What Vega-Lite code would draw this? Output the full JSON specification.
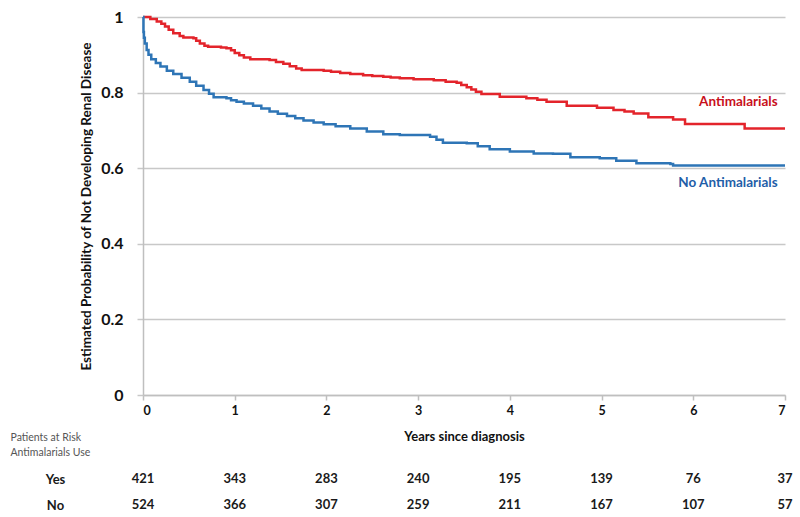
{
  "$schema": "https://vega.github.io/schema/vega-lite/v6.json",
  "background": "white",
  "padding": {"left": 10, "top": 9, "right": 8, "bottom": 0},
  "bounds": "flush",
  "spacing": 71,
  "config": {"font": "Lato", "view": {"stroke": null}},
  "datasets": {
    "km": [
      {"group": "Antimalarials", "t": 0, "s": 1.0},
      {"group": "Antimalarials", "t": 0.08, "s": 0.995},
      {"group": "Antimalarials", "t": 0.15, "s": 0.988},
      {"group": "Antimalarials", "t": 0.2, "s": 0.982},
      {"group": "Antimalarials", "t": 0.24, "s": 0.975},
      {"group": "Antimalarials", "t": 0.28, "s": 0.966},
      {"group": "Antimalarials", "t": 0.33, "s": 0.957},
      {"group": "Antimalarials", "t": 0.4, "s": 0.95},
      {"group": "Antimalarials", "t": 0.44, "s": 0.946},
      {"group": "Antimalarials", "t": 0.55, "s": 0.944},
      {"group": "Antimalarials", "t": 0.58, "s": 0.937},
      {"group": "Antimalarials", "t": 0.62, "s": 0.93},
      {"group": "Antimalarials", "t": 0.67, "s": 0.924},
      {"group": "Antimalarials", "t": 0.71, "s": 0.921},
      {"group": "Antimalarials", "t": 0.85, "s": 0.919},
      {"group": "Antimalarials", "t": 0.91, "s": 0.917},
      {"group": "Antimalarials", "t": 0.96, "s": 0.912},
      {"group": "Antimalarials", "t": 1.0, "s": 0.905},
      {"group": "Antimalarials", "t": 1.05, "s": 0.899},
      {"group": "Antimalarials", "t": 1.1, "s": 0.893},
      {"group": "Antimalarials", "t": 1.17, "s": 0.888},
      {"group": "Antimalarials", "t": 1.38, "s": 0.886},
      {"group": "Antimalarials", "t": 1.45, "s": 0.881},
      {"group": "Antimalarials", "t": 1.53, "s": 0.876},
      {"group": "Antimalarials", "t": 1.6, "s": 0.87},
      {"group": "Antimalarials", "t": 1.67, "s": 0.864},
      {"group": "Antimalarials", "t": 1.73, "s": 0.86},
      {"group": "Antimalarials", "t": 1.97, "s": 0.858},
      {"group": "Antimalarials", "t": 2.05, "s": 0.855},
      {"group": "Antimalarials", "t": 2.15, "s": 0.852},
      {"group": "Antimalarials", "t": 2.26, "s": 0.849},
      {"group": "Antimalarials", "t": 2.4, "s": 0.846},
      {"group": "Antimalarials", "t": 2.5, "s": 0.844},
      {"group": "Antimalarials", "t": 2.62, "s": 0.842},
      {"group": "Antimalarials", "t": 2.7, "s": 0.84},
      {"group": "Antimalarials", "t": 2.8, "s": 0.838},
      {"group": "Antimalarials", "t": 2.95, "s": 0.835},
      {"group": "Antimalarials", "t": 3.17, "s": 0.833},
      {"group": "Antimalarials", "t": 3.3, "s": 0.829},
      {"group": "Antimalarials", "t": 3.42, "s": 0.826},
      {"group": "Antimalarials", "t": 3.47, "s": 0.82},
      {"group": "Antimalarials", "t": 3.53, "s": 0.814},
      {"group": "Antimalarials", "t": 3.58, "s": 0.808},
      {"group": "Antimalarials", "t": 3.63, "s": 0.802},
      {"group": "Antimalarials", "t": 3.69, "s": 0.796},
      {"group": "Antimalarials", "t": 3.89, "s": 0.789},
      {"group": "Antimalarials", "t": 4.18, "s": 0.785},
      {"group": "Antimalarials", "t": 4.3, "s": 0.781},
      {"group": "Antimalarials", "t": 4.4, "s": 0.776},
      {"group": "Antimalarials", "t": 4.62, "s": 0.765},
      {"group": "Antimalarials", "t": 4.95, "s": 0.76},
      {"group": "Antimalarials", "t": 5.13, "s": 0.754},
      {"group": "Antimalarials", "t": 5.25, "s": 0.75},
      {"group": "Antimalarials", "t": 5.35, "s": 0.745},
      {"group": "Antimalarials", "t": 5.51, "s": 0.735},
      {"group": "Antimalarials", "t": 5.78, "s": 0.729},
      {"group": "Antimalarials", "t": 5.91, "s": 0.717},
      {"group": "Antimalarials", "t": 6.56, "s": 0.705},
      {"group": "Antimalarials", "t": 7.0, "s": 0.705},
      {"group": "No Antimalarials", "t": 0, "s": 1.0},
      {"group": "No Antimalarials", "t": 0.005, "s": 0.96},
      {"group": "No Antimalarials", "t": 0.01, "s": 0.945},
      {"group": "No Antimalarials", "t": 0.02, "s": 0.93},
      {"group": "No Antimalarials", "t": 0.04, "s": 0.913},
      {"group": "No Antimalarials", "t": 0.06, "s": 0.9},
      {"group": "No Antimalarials", "t": 0.09, "s": 0.888},
      {"group": "No Antimalarials", "t": 0.14, "s": 0.878},
      {"group": "No Antimalarials", "t": 0.19, "s": 0.869},
      {"group": "No Antimalarials", "t": 0.26, "s": 0.858},
      {"group": "No Antimalarials", "t": 0.33, "s": 0.849},
      {"group": "No Antimalarials", "t": 0.42, "s": 0.839},
      {"group": "No Antimalarials", "t": 0.51, "s": 0.829},
      {"group": "No Antimalarials", "t": 0.58, "s": 0.818},
      {"group": "No Antimalarials", "t": 0.66, "s": 0.807},
      {"group": "No Antimalarials", "t": 0.72, "s": 0.797},
      {"group": "No Antimalarials", "t": 0.77, "s": 0.788},
      {"group": "No Antimalarials", "t": 0.91, "s": 0.785},
      {"group": "No Antimalarials", "t": 0.96, "s": 0.78},
      {"group": "No Antimalarials", "t": 1.02, "s": 0.776},
      {"group": "No Antimalarials", "t": 1.1, "s": 0.771},
      {"group": "No Antimalarials", "t": 1.2, "s": 0.765},
      {"group": "No Antimalarials", "t": 1.29, "s": 0.758},
      {"group": "No Antimalarials", "t": 1.38, "s": 0.75},
      {"group": "No Antimalarials", "t": 1.47, "s": 0.744},
      {"group": "No Antimalarials", "t": 1.57, "s": 0.738},
      {"group": "No Antimalarials", "t": 1.66, "s": 0.732},
      {"group": "No Antimalarials", "t": 1.75, "s": 0.726},
      {"group": "No Antimalarials", "t": 1.86, "s": 0.721},
      {"group": "No Antimalarials", "t": 1.97, "s": 0.716},
      {"group": "No Antimalarials", "t": 2.1, "s": 0.711},
      {"group": "No Antimalarials", "t": 2.26, "s": 0.705},
      {"group": "No Antimalarials", "t": 2.44, "s": 0.697},
      {"group": "No Antimalarials", "t": 2.62, "s": 0.69},
      {"group": "No Antimalarials", "t": 2.8, "s": 0.688},
      {"group": "No Antimalarials", "t": 3.13, "s": 0.683},
      {"group": "No Antimalarials", "t": 3.2, "s": 0.675},
      {"group": "No Antimalarials", "t": 3.27, "s": 0.667},
      {"group": "No Antimalarials", "t": 3.53, "s": 0.666},
      {"group": "No Antimalarials", "t": 3.65, "s": 0.658},
      {"group": "No Antimalarials", "t": 3.78, "s": 0.65},
      {"group": "No Antimalarials", "t": 4.0, "s": 0.644},
      {"group": "No Antimalarials", "t": 4.26, "s": 0.639},
      {"group": "No Antimalarials", "t": 4.47, "s": 0.638},
      {"group": "No Antimalarials", "t": 4.66, "s": 0.629},
      {"group": "No Antimalarials", "t": 4.98, "s": 0.626},
      {"group": "No Antimalarials", "t": 5.16, "s": 0.62},
      {"group": "No Antimalarials", "t": 5.38, "s": 0.613},
      {"group": "No Antimalarials", "t": 5.75, "s": 0.611},
      {"group": "No Antimalarials", "t": 5.78, "s": 0.607},
      {"group": "No Antimalarials", "t": 7.0, "s": 0.607}
    ],
    "labels": [
      {"label": "Antimalarials", "t": 6.92, "s": 0.775},
      {"label": "No Antimalarials", "t": 6.92, "s": 0.56}
    ],
    "risk": [
      {"use": "Yes", "year": 0, "n": 421},
      {"use": "Yes", "year": 1, "n": 343},
      {"use": "Yes", "year": 2, "n": 283},
      {"use": "Yes", "year": 3, "n": 240},
      {"use": "Yes", "year": 4, "n": 195},
      {"use": "Yes", "year": 5, "n": 139},
      {"use": "Yes", "year": 6, "n": 76},
      {"use": "Yes", "year": 7, "n": 37},
      {"use": "No", "year": 0, "n": 524},
      {"use": "No", "year": 1, "n": 366},
      {"use": "No", "year": 2, "n": 307},
      {"use": "No", "year": 3, "n": 259},
      {"use": "No", "year": 4, "n": 211},
      {"use": "No", "year": 5, "n": 167},
      {"use": "No", "year": 6, "n": 107},
      {"use": "No", "year": 7, "n": 57}
    ]
  },
  "vconcat": [
    {
      "width": 642,
      "height": 378,
      "layer": [
        {
          "data": {"name": "km"},
          "mark": {"type": "line", "interpolate": "step-after", "strokeWidth": 2.5},
          "encoding": {
            "x": {
              "field": "t", "type": "quantitative",
              "scale": {"domain": [0, 7], "nice": false},
              "axis": {
                "values": [0, 1, 2, 3, 4, 5, 6, 7], "format": "d",
                "grid": false,
                "domainColor": "#bfbfbf", "domainWidth": 1.5,
                "tickColor": "#bfbfbf", "tickWidth": 1.5, "tickSize": 5,
                "labelFontSize": 12.5, "labelFontWeight": "bold", "labelColor": "#111",
                "labelPadding": 4,
                "title": "Years since diagnosis",
                "titleFontSize": 13, "titleFontWeight": "bold", "titleColor": "#111",
                "titlePadding": 14
              }
            },
            "y": {
              "field": "s", "type": "quantitative",
              "scale": {"domain": [0, 1], "nice": false},
              "axis": {
                "values": [0, 0.2, 0.4, 0.6, 0.8, 1], "format": "~g",
                "grid": true, "gridColor": "#c8c8c8", "gridWidth": 1.5,
                "domainColor": "#bfbfbf", "domainWidth": 1.5,
                "tickColor": "#c8c8c8", "tickWidth": 1.5, "tickSize": 6,
                "labelFontSize": 16, "labelFontWeight": "bold", "labelColor": "#111",
                "labelPadding": 14,
                "title": "Estimated Probability of  Not Developing Renal Disease",
                "titleFontSize": 13.5, "titleFontWeight": "bold", "titleColor": "#111",
                "titlePadding": 7
              }
            },
            "color": {
              "field": "group", "type": "nominal",
              "scale": {"domain": ["Antimalarials", "No Antimalarials"], "range": ["#e3242b", "#2e75b6"]},
              "legend": null
            }
          }
        },
        {
          "data": {"name": "labels"},
          "mark": {"type": "text", "align": "right", "baseline": "middle", "fontWeight": "bold", "fontSize": 13.5},
          "encoding": {
            "x": {"field": "t", "type": "quantitative"},
            "y": {"field": "s", "type": "quantitative"},
            "text": {"field": "label"},
            "color": {
              "field": "label", "type": "nominal",
              "scale": {"domain": ["Antimalarials", "No Antimalarials"], "range": ["#c8101c", "#1f5ea8"]},
              "legend": null
            }
          }
        }
      ],
      "resolve": {"scale": {"color": "independent"}}
    },
    {
      "width": 642,
      "height": 52,
      "data": {"name": "risk"},
      "mark": {"type": "text", "fontSize": 13, "fontWeight": "bold", "color": "#1a1a1a", "baseline": "middle"},
      "encoding": {
        "x": {
          "field": "year", "type": "quantitative",
          "scale": {"domain": [0, 7], "nice": false},
          "axis": null
        },
        "y": {
          "field": "use", "type": "nominal",
          "scale": {"type": "point", "domain": ["Yes", "No"], "padding": 0.5},
          "axis": {
            "domain": false, "ticks": false, "tickSize": 0, "grid": false,
            "labelAlign": "center", "labelPadding": 88,
            "labelFontSize": 13, "labelFontWeight": "bold", "labelColor": "#1a1a1a",
            "title": ["Patients at Risk", "Antimalarials Use"],
            "titleAngle": 0, "titleAlign": "left", "titleBaseline": "top",
            "titleX": -133, "titleY": -34,
            "titleFontSize": 10.5, "titleFontWeight": "normal", "titleColor": "#555",
            "titleLineHeight": 15
          }
        },
        "text": {"field": "n"}
      }
    }
  ]
}
